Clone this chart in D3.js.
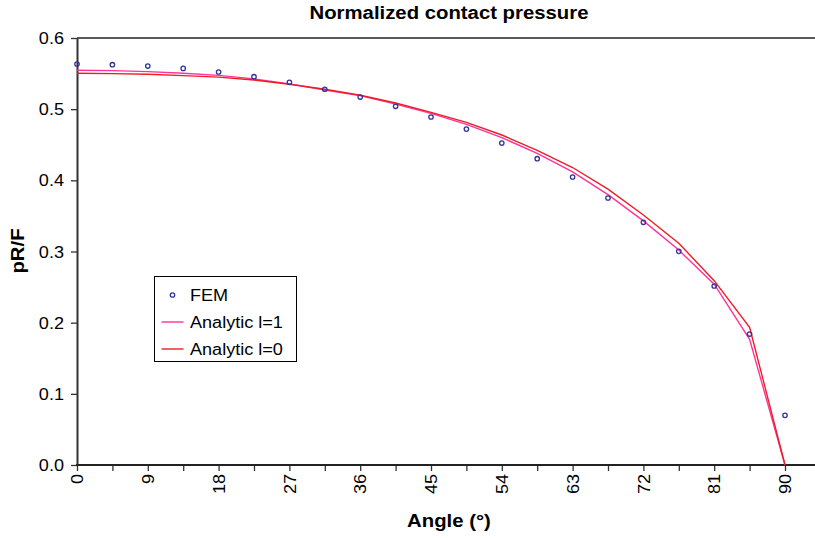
<!DOCTYPE html>
<html><head><meta charset="utf-8">
<script src="https://cdn.jsdelivr.net/npm/d3@7"></script>
<style>
body{margin:0;background:#fff;}
text{font-family:"Liberation Sans",Arial,sans-serif;fill:#000;}
</style></head>
<body><svg id="c" width="815" height="538"></svg>
<script>
const angles = [0,4.5,9,13.5,18,22.5,27,31.5,36,40.5,45,49.5,54,58.5,63,67.5,72,76.5,81,85.5,90];
const femValues = [0.5635,0.5625,0.5606,0.5573,0.5522,0.5456,0.5377,0.528,0.517,0.504,0.489,0.472,0.4524,0.4304,0.4047,0.3752,0.341,0.3002,0.2515,0.184,0.0698];
const analyticL1 = [0.5547,0.5542,0.5528,0.5505,0.5475,0.5425,0.5355,0.527,0.519,0.507,0.494,0.4787,0.46,0.438,0.412,0.38,0.343,0.302,0.254,0.1765,0];
const analyticL0 = [0.5504,0.55,0.549,0.5472,0.545,0.541,0.535,0.528,0.5195,0.5086,0.4955,0.4815,0.4637,0.4422,0.418,0.3876,0.3513,0.3115,0.259,0.1935,0];
const xTickLabels = ["0","9","18","27","36","45","54","63","72","81","90"];
const yTicks = [0,0.1,0.2,0.3,0.4,0.5,0.6];
const seriesNames = ["FEM","Analytic l=1","Analytic l=0"];

const svg = d3.select("#c");
const L = 77, T = 38, B = 465, Rdata = 785, Redge = 815;
const SX = 1.13;
const x = d3.scaleLinear().domain([0,90]).range([L,Rdata]);
const y = d3.scaleLinear().domain([0,0.6]).range([B,T]);

// top border
svg.append("line").attr("x1",L).attr("x2",Redge+2).attr("y1",T).attr("y2",T)
  .attr("stroke","#222").attr("stroke-width",1.3);

// y axis
const ya = svg.append("g").attr("transform",`translate(${L},0)`)
  .call(d3.axisLeft(y).tickValues(yTicks).tickFormat(d3.format(".1f")).tickSize(6).tickSizeOuter(0));
ya.select(".domain").attr("stroke","#333").attr("stroke-width",2);
ya.selectAll(".tick line").attr("stroke","#333").attr("stroke-width",1.3);
ya.selectAll(".tick text").attr("font-size",16).attr("x",0).attr("dy","0.35em")
  .attr("transform",`translate(-13,0) scale(${SX},1)`).attr("text-anchor","end");

// x axis
const xa = svg.append("g").attr("transform",`translate(0,${B})`)
  .call(d3.axisBottom(x).tickValues(angles)
    .tickFormat(d => xTickLabels.includes(String(d)) ? String(d) : "").tickSize(6).tickSizeOuter(0));
xa.select(".domain").remove();
xa.append("line").attr("x1",L-1).attr("x2",Redge+2).attr("y1",0).attr("y2",0)
  .attr("stroke","#222").attr("stroke-width",2);
xa.selectAll(".tick line").attr("stroke","#333").attr("stroke-width",1.3);
xa.selectAll(".tick text").attr("font-size",16).attr("x",0).attr("y",0).attr("dy","0.35em")
  .attr("text-anchor","end").attr("transform",`translate(0,9) rotate(-90) scale(${SX},1)`);

// lines
const lineGen = vals => d3.line().x((d,i)=>x(angles[i])).y(d=>y(d))(vals);
svg.append("path").attr("d",lineGen(analyticL1)).attr("fill","none").attr("stroke","#ff3399").attr("stroke-width",1.4);
svg.append("path").attr("d",lineGen(analyticL0)).attr("fill","none").attr("stroke","#ee1c25").attr("stroke-width",1.4);

// FEM markers
svg.append("g").selectAll("circle").data(femValues).join("circle")
  .attr("cx",(d,i)=>x(angles[i])).attr("cy",d=>y(d)).attr("r",2.2)
  .attr("fill","none").attr("stroke","#33339a").attr("stroke-width",1.3);

// titles
function stxt(px,py,str,opts){
  const g = svg.append("g").attr("transform",`translate(${px},${py})${opts.rot?` rotate(${opts.rot})`:""} scale(${SX},1)`);
  return g.append("text").attr("text-anchor",opts.anchor||"middle").attr("font-size",opts.size)
    .attr("font-weight",opts.bold?"bold":"normal").text(str);
}
stxt(449,19,"Normalized contact pressure",{size:18,bold:true});
stxt(449,527,"Angle (°)",{size:18,bold:true});
stxt(24,251,"pR/F",{size:18,bold:true,rot:-90});

// legend
const lg = svg.append("g");
lg.append("rect").attr("x",154.5).attr("y",276.5).attr("width",142).attr("height",85)
  .attr("fill","#fff").attr("stroke","#000").attr("stroke-width",1);
const rowsY = [295,322,349];
lg.append("circle").attr("cx",172.5).attr("cy",rowsY[0]).attr("r",2.2)
  .attr("fill","none").attr("stroke","#33339a").attr("stroke-width",1.3);
lg.append("line").attr("x1",161.5).attr("x2",183.5).attr("y1",rowsY[1]).attr("y2",rowsY[1]).attr("stroke","#ff3399").attr("stroke-width",1.4);
lg.append("line").attr("x1",161.5).attr("x2",183.5).attr("y1",rowsY[2]).attr("y2",rowsY[2]).attr("stroke","#ee1c25").attr("stroke-width",1.4);
seriesNames.forEach((n,i)=>{
  stxt(190,rowsY[i]+6,n,{size:16,anchor:"start"});
});
</script></body></html>
